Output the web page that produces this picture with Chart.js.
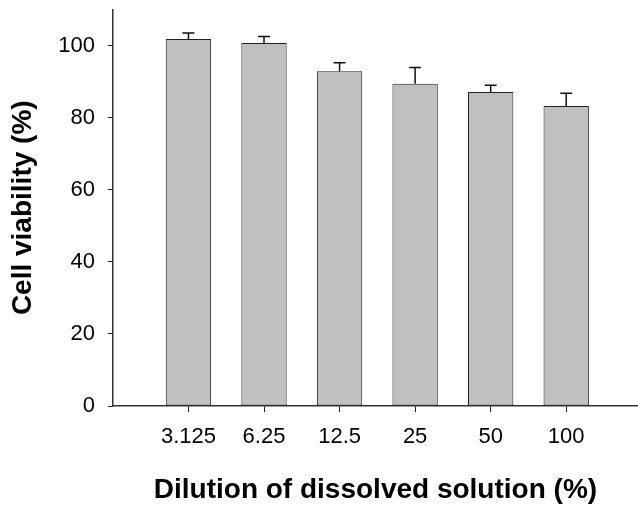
<!DOCTYPE html>
<html>
<head>
<meta charset="utf-8">
<script src="https://cdn.jsdelivr.net/npm/chart.js@4"></script>
<style>
  html, body { margin: 0; padding: 0; background: #fff; }
  canvas { display: block; }
</style>
</head>
<body>
<canvas id="viabilityChart" width="638" height="505"></canvas>
<script>
// Chart data
const dilutionLabels = ['3.125', '6.25', '12.5', '25', '50', '100'];
const barPositions = [1, 2, 3, 4, 5, 6];
const viability = [101.8, 100.7, 92.9, 89.4, 87.1, 83.2];
const viabilityErr = [1.7, 1.8, 2.3, 4.5, 1.9, 3.6];
const yTickValues = [0, 20, 40, 60, 80, 100];

const FONT = '"Liberation Sans", Arial, Helvetica, sans-serif';

// draws the upper error bar on top of each bar
const errorBarPlugin = {
  id: 'errorBars',
  afterDatasetsDraw(chart) {
    const ctx = chart.ctx;
    const xs = chart.scales.x;
    const ys = chart.scales.y;
    ctx.save();
    ctx.strokeStyle = '#111';
    ctx.lineWidth = 1.5;
    viability.forEach((v, i) => {
      const px = xs.getPixelForValue(barPositions[i]);
      const yTop = ys.getPixelForValue(v);
      const yErr = ys.getPixelForValue(v + viabilityErr[i]);
      ctx.beginPath();
      ctx.moveTo(px, yTop);
      ctx.lineTo(px, yErr);
      ctx.moveTo(px - 6, yErr);
      ctx.lineTo(px + 6, yErr);
      ctx.stroke();
    });
    ctx.restore();
  }
};

const ctx = document.getElementById('viabilityChart').getContext('2d');

new Chart(ctx, {
  type: 'bar',
  data: {
    datasets: [{
      data: barPositions.map((x, i) => ({ x: x, y: viability[i] })),
      backgroundColor: '#c0c0c0',
      borderColor: '#222',
      borderWidth: 1,
      borderSkipped: false,
      barPercentage: 0.6,
      categoryPercentage: 1
    }]
  },
  options: {
    responsive: false,
    animation: false,
    layout: { padding: { left: 6, top: 9.5, right: 0, bottom: 0 } },
    plugins: {
      legend: { display: false },
      tooltip: { enabled: false }
    },
    scales: {
      x: {
        type: 'linear',
        offset: false,
        min: 0,
        max: 6.95,
        afterBuildTicks: (axis) => {
          axis.ticks = barPositions.map(v => ({ value: v }));
        },
        ticks: {
          autoSkip: false,
          maxRotation: 0,
          padding: 11.5,
          color: '#000',
          font: { family: FONT, size: 22 },
          callback: (value) => dilutionLabels[barPositions.indexOf(value)]
        },
        grid: { drawOnChartArea: false, tickLength: 6, color: '#222', lineWidth: 1, offset: false },
        border: { display: true, color: '#333', width: 1.5 },
        title: {
          display: true,
          text: 'Dilution of dissolved solution (%)',
          color: '#000',
          font: { family: FONT, size: 28, weight: 'bold' },
          padding: { top: 12, bottom: -2 }
        }
      },
      y: {
        min: 0,
        max: 110,
        afterBuildTicks: (axis) => {
          axis.ticks = yTickValues.map(v => ({ value: v }));
        },
        // the axis line runs up to 110, no label room needed above it
        afterFit: (axis) => {
          axis.paddingTop = 0;
          axis.paddingBottom = 0;
        },
        ticks: {
          padding: 13,
          color: '#000',
          font: { family: FONT, size: 22, lineHeight: 0.5 }
        },
        grid: { drawOnChartArea: false, tickLength: 5, color: '#222', lineWidth: 1 },
        border: { display: true, color: '#333', width: 1.5 },
        title: {
          display: true,
          text: 'Cell viability (%)',
          color: '#000',
          font: { family: FONT, size: 28, weight: 'bold' },
          padding: { top: 0, bottom: 5.6 }
        }
      }
    }
  },
  plugins: [errorBarPlugin]
});
</script>
</body>
</html>
